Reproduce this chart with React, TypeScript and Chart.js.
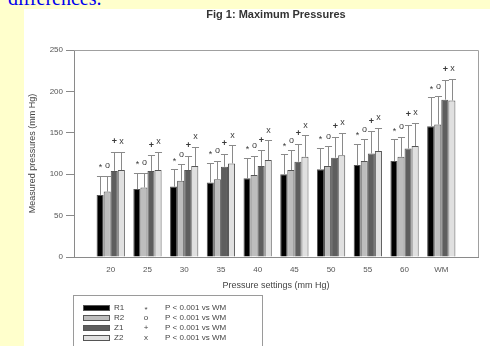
import React, { useEffect, useRef } from 'react';
import { Chart, registerables } from 'chart.js';

Chart.register(...registerables);

const categories = ['20', '25', '30', '35', '40', '45', '50', '55', '60', 'WM'];

const r1Mean = [75, 82, 85, 90, 95, 100, 106, 111, 116, 158];
const r1Upper = [98, 102, 106, 114, 120, 124, 132, 137, 142, 193];
const r2Mean = [79, 84, 92, 94, 99, 105, 110, 116, 121, 160];
const r2Upper = [98, 102, 112, 116, 122, 129, 134, 142, 145, 194];
const z1Mean = [104, 104, 105, 109, 110, 115, 120, 125, 131, 190];
const z1Upper = [127, 123, 122, 125, 129, 137, 145, 152, 160, 214];
const z2Mean = [105, 105, 110, 113, 117, 121, 123, 128, 134, 189];
const z2Upper = [127, 127, 133, 135, 141, 147, 150, 156, 162, 215];

const seriesNames = ['R1', 'R2', 'Z1', 'Z2'];
const seriesSymbols = ['*', 'o', '+', 'x'];
const seriesColors = ['#000000', '#bdbdbd', '#5e5e5e', '#e0e0e0'];
const legendNote = 'P < 0.001 vs WM';

const chartTitle = 'Fig 1: Maximum Pressures';
const yTitle = 'Measured pressures (mm Hg)';
const xTitle = 'Pressure settings (mm Hg)';
const yMin = 0;
const yMax = 250;
const yStep = 50;

const FONT = '"Liberation Sans", Arial, sans-serif';

const pad = (a: (number | string)[]) => [null, ...a, null];

const means = [r1Mean, r2Mean, z1Mean, z2Mean];
const uppers = [r1Upper, r2Upper, z1Upper, z2Upper];

const errorPlugin = {
  id: 'errorAndMarks',
  afterDatasetsDraw(chart: any) {
    const ctx = chart.ctx;
    const y = chart.scales.y;
    const area = chart.chartArea;
    ctx.save();
    // frame
    ctx.strokeStyle = '#a0a0a0';
    ctx.lineWidth = 1;
    ctx.beginPath();
    ctx.moveTo(area.left, area.top + 0.5);
    ctx.lineTo(area.right + 0.5, area.top + 0.5);
    ctx.lineTo(area.right + 0.5, area.bottom);
    ctx.stroke();
    chart.data.datasets.forEach((ds: any, i: number) => {
      const meta = chart.getDatasetMeta(i);
      meta.data.forEach((bar: any, j: number) => {
        const up = ds.upper[j];
        if (up == null || ds.data[j] == null) return;
        const yTop = y.getPixelForValue(up);
        const x = Math.round(bar.x) + 0.5;
        const hw = bar.width / 2;
        ctx.strokeStyle = '#8a8a8a';
        ctx.lineWidth = 1;
        ctx.beginPath();
        ctx.moveTo(x, bar.y);
        ctx.lineTo(x, Math.round(yTop) + 0.5);
        ctx.moveTo(x - hw, Math.round(yTop) + 0.5);
        ctx.lineTo(x + hw, Math.round(yTop) + 0.5);
        ctx.stroke();
        ctx.fillStyle = '#3a3a3a';
        ctx.font = (ds.symbol === '+' ? 'bold ' : '') + '9px ' + FONT;
        ctx.textAlign = 'center';
        ctx.textBaseline = 'middle';
        ctx.fillText(ds.symbol, x, yTop - 10 + (ds.symbol === '*' ? 2 : 0));
      });
    });
    ctx.restore();
  },
};

const legendPlugin = {
  id: 'customLegend',
  afterDraw(chart: any) {
    const ctx = chart.ctx;
    const area = chart.chartArea;
    const left = area.left - 1;
    const top = area.bottom + 38;
    ctx.save();
    ctx.strokeStyle = '#9a9a9a';
    ctx.lineWidth = 1;
    ctx.strokeRect(left + 0.5, top + 0.5, 189, 70);
    ctx.font = '8px ' + FONT;
    ctx.textBaseline = 'middle';
    chart.data.datasets.forEach((ds: any, i: number) => {
      const cy = top + 13 + i * 10;
      ctx.fillStyle = ds.backgroundColor;
      ctx.fillRect(left + 10, cy - 2.5, 27, 5);
      ctx.strokeStyle = '#555';
      ctx.strokeRect(left + 10.5, cy - 2.5, 26, 5);
      ctx.fillStyle = '#444';
      ctx.textAlign = 'left';
      ctx.fillText(ds.label, left + 41, cy);
      ctx.textAlign = 'center';
      ctx.fillText(ds.symbol, left + 73, cy + (ds.symbol === '*' ? 2 : 0));
      ctx.textAlign = 'left';
      ctx.fillText(legendNote, left + 92, cy);
    });
    ctx.restore();
  },
};

export default function App() {
  const ref = useRef<HTMLCanvasElement>(null);
  useEffect(() => {
    const datasets = seriesNames.map((name, i) => ({
      label: name,
      data: pad(means[i]),
      upper: pad(uppers[i]),
      symbol: seriesSymbols[i],
      backgroundColor: seriesColors[i],
      borderColor: '#555555',
      borderWidth: 1,
      categoryPercentage: 0.77,
      barPercentage: 1.0,
    }));
    const chart = new Chart(ref.current as HTMLCanvasElement, {
      type: 'bar',
      data: { labels: pad(categories) as any, datasets: datasets as any },
      plugins: [errorPlugin, legendPlugin],
      options: {
        animation: false,
        responsive: false,
        devicePixelRatio: 1,
        layout: { padding: { top: 0, left: 0, right: 12, bottom: 56 } },
        plugins: {
          legend: { display: false },
          tooltip: { enabled: false },
          title: {
            display: true,
            text: chartTitle,
            fullSize: false,
            color: '#333',
            font: { family: FONT, size: 11, weight: 'bold', lineHeight: 1 },
            padding: { top: 0, bottom: 30 },
          },
        },
        scales: {
          x: {
            offset: false,
            grid: { display: false },
            border: { display: true, color: '#8a8a8a' },
            ticks: {
              autoSkip: false,
              maxRotation: 0,
              color: '#555',
              font: { family: FONT, size: 8 },
              padding: 0,
            },
            title: {
              display: true,
              text: xTitle,
              color: '#444',
              font: { family: FONT, size: 9, lineHeight: 1 },
              padding: { top: 0, bottom: 0 },
            },
            afterFit: (s: any) => {
              s.height = 33;
            },
          },
          y: {
            min: yMin,
            max: yMax,
            ticks: {
              stepSize: yStep,
              color: '#555',
              font: { family: FONT, size: 8 },
              padding: 3,
            },
            grid: {
              display: true,
              drawOnChartArea: false,
              drawTicks: true,
              tickLength: 8,
              color: '#8a8a8a',
            },
            border: { display: true, color: '#8a8a8a' },
            title: {
              display: true,
              text: yTitle,
              color: '#444',
              font: { family: FONT, size: 9, lineHeight: 1 },
              padding: { top: 4, bottom: 0 },
            },
            afterFit: (s: any) => {
              s.width = 50;
            },
          },
        },
      } as any,
    });
    return () => chart.destroy();
  }, []);

  return (
    <div
      style={{
        position: 'fixed',
        left: 0,
        top: 0,
        width: 490,
        height: 346,
        background: '#ffffcc',
        overflow: 'hidden',
      }}
    >
      <div
        style={{
          position: 'absolute',
          left: 8,
          top: -12,
          fontFamily: '"Liberation Serif", "Times New Roman", serif',
          fontSize: 20,
          lineHeight: '20px',
          color: '#0000ee',
          whiteSpace: 'nowrap',
        }}
      >
        differences.
      </div>
      <div
        style={{
          position: 'absolute',
          left: 24,
          top: 9,
          width: 466,
          height: 337,
          background: '#ffffff',
        }}
      >
        <canvas ref={ref} width={466} height={337} style={{ display: 'block' }} />
      </div>
    </div>
  );
}
